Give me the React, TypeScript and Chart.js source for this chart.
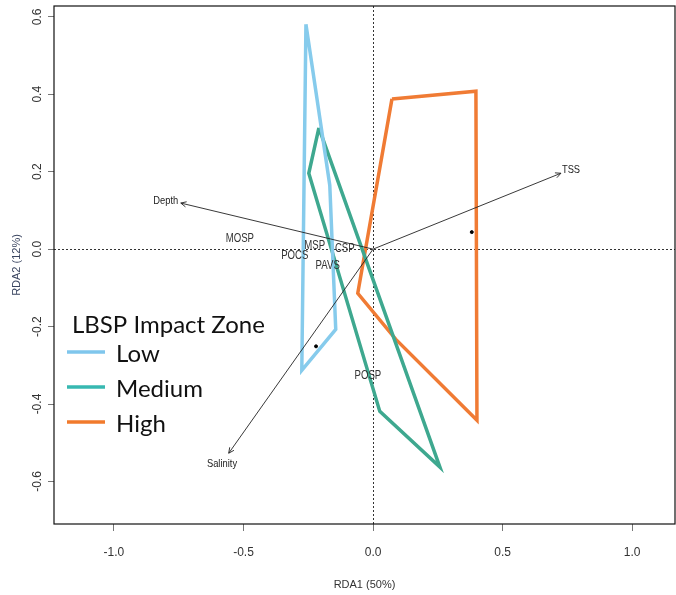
import { useEffect, useRef } from "react";
import { Chart, registerables } from "chart.js";

Chart.register(...registerables);

// ---- Data ----
const xTicks = [-1.0, -0.5, 0.0, 0.5, 1.0];
const yTicks = [-0.6, -0.4, -0.2, 0.0, 0.2, 0.4, 0.6];

const zoneNames = ["Low", "Medium", "High"];
const zoneColors = ["#86cbec", "#3ea88f", "#f07b34"];
const legendColors = ["#7fc6ec", "#37b8b1", "#f17a2c"];

const lowHullX = [-0.259, -0.167, -0.144, -0.275, -0.259];
const lowHullY = [0.581, 0.165, -0.207, -0.313, 0.581];
const mediumHullX = [-0.209, 0.258, 0.026, -0.248, -0.209];
const mediumHullY = [0.313, -0.563, -0.419, 0.196, 0.313];
const highHullX = [0.073, 0.397, 0.401, 0.088, -0.059, 0.073];
const highHullY = [0.388, 0.408, -0.442, -0.233, -0.114, 0.388];

const centroidX = [-0.22, 0.381];
const centroidY = [-0.251, 0.044];

const envNames = ["Depth", "TSS", "Salinity"];
const envX = [-0.742, 0.725, -0.557];
const envY = [0.119, 0.196, -0.527];
const envLabelX = [-0.8, 0.764, -0.583];
const envLabelY = [0.124, 0.204, -0.556];

const speciesNames = ["MOSP", "MSP", "CSP", "POCS", "PAVS", "POSP"];
const speciesX = [-0.514, -0.225, -0.109, -0.302, -0.175, -0.02];
const speciesY = [0.026, 0.008, 0.0, -0.016, -0.044, -0.328];

const xMin = -1.2313;
const xMax = 1.1653;
const yMin = -0.7098;
const yMax = 0.6279;

const xTitle = "RDA1 (50%)";
const yTitle = "RDA2 (12%)";
const legendTitle = "LBSP Impact Zone";

const SANS = '"Liberation Sans", Arial, sans-serif';

function zip(xs: number[], ys: number[]) {
  return xs.map((x, i) => ({ x, y: ys[i] }));
}

// draw horizontally condensed text (the reference uses a narrow face)
function narrowText(ctx: any, text: string, x: number, y: number, squeeze: number) {
  ctx.save();
  ctx.translate(x, y);
  ctx.scale(squeeze, 1);
  ctx.fillText(text, 0, 0);
  ctx.restore();
}

const annotationPlugin = {
  id: "rdaAnnotations",
  afterDatasetsDraw(chart: any) {
    const { ctx, chartArea, scales } = chart;
    const sx = scales.x;
    const sy = scales.y;
    ctx.save();
    // arrow heads
    const ox = sx.getPixelForValue(0);
    const oy = sy.getPixelForValue(0);
    ctx.strokeStyle = "#222";
    ctx.lineWidth = 0.9;
    envNames.forEach((_, i) => {
      const ex = sx.getPixelForValue(envX[i]);
      const ey = sy.getPixelForValue(envY[i]);
      const ang = Math.atan2(ey - oy, ex - ox);
      const len = 6;
      ctx.beginPath();
      ctx.moveTo(ex - len * Math.cos(ang - 0.45), ey - len * Math.sin(ang - 0.45));
      ctx.lineTo(ex, ey);
      ctx.lineTo(ex - len * Math.cos(ang + 0.45), ey - len * Math.sin(ang + 0.45));
      ctx.stroke();
    });
    // env labels
    ctx.fillStyle = "#222";
    ctx.font = `11px ${SANS}`;
    ctx.textAlign = "center";
    ctx.textBaseline = "middle";
    envNames.forEach((n, i) => {
      narrowText(ctx, n, sx.getPixelForValue(envLabelX[i]), sy.getPixelForValue(envLabelY[i]), 0.85);
    });
    // species labels
    ctx.font = `12px ${SANS}`;
    ctx.fillStyle = "#333";
    speciesNames.forEach((n, i) => {
      narrowText(ctx, n, sx.getPixelForValue(speciesX[i]), sy.getPixelForValue(speciesY[i]), 0.8);
    });
    // plot box
    ctx.strokeStyle = "#111";
    ctx.lineWidth = 1.2;
    ctx.strokeRect(chartArea.left, chartArea.top, chartArea.right - chartArea.left, chartArea.bottom - chartArea.top);
    // legend
    ctx.textAlign = "left";
    ctx.fillStyle = "#111";
    ctx.font = `24px Lato, "Open Sans", sans-serif`;
    ctx.fillText(legendTitle, 72, 325);
    zoneNames.forEach((n, i) => {
      const y = 352 + i * 35;
      ctx.strokeStyle = legendColors[i];
      ctx.lineWidth = 3.5;
      ctx.beginPath();
      ctx.moveTo(67, y);
      ctx.lineTo(105, y);
      ctx.stroke();
      ctx.fillStyle = "#111";
      ctx.fillText(n, 116, y + 2);
    });
    ctx.restore();
  },
};

export default function App() {
  const ref = useRef<HTMLCanvasElement | null>(null);

  useEffect(() => {
    document.body.style.margin = "0";
    document.body.style.background = "#ffffff";
    const canvas = ref.current;
    if (!canvas) return;

    const hulls = [zip(lowHullX, lowHullY), zip(mediumHullX, mediumHullY), zip(highHullX, highHullY)];

    const datasets: any[] = [];
    envNames.forEach((n, i) => {
      datasets.push({
        label: n,
        type: "line",
        data: [{ x: 0, y: 0 }, { x: envX[i], y: envY[i] }],
        borderColor: "#222",
        borderWidth: 0.9,
        pointRadius: 0,
        showLine: true,
        fill: false,
      });
    });
    zoneNames.forEach((n, i) => {
      datasets.push({
        label: n,
        type: "line",
        data: hulls[i],
        borderColor: zoneColors[i],
        borderWidth: 3.5,
        pointRadius: 0,
        showLine: true,
        fill: false,
        tension: 0,
        borderJoinStyle: "miter",
      });
    });
    datasets.push({
      label: "centroids",
      type: "scatter",
      data: zip(centroidX, centroidY),
      backgroundColor: "#000",
      borderColor: "#000",
      pointRadius: 1.5,
    });

    const tickFont = { family: SANS, size: 12 };
    const titleFont = { family: SANS, size: 11 };

    const chart = new Chart(canvas, {
      type: "scatter",
      data: { datasets },
      plugins: [annotationPlugin],
      options: {
        animation: false,
        responsive: false,
        maintainAspectRatio: false,
        layout: { autoPadding: false, padding: { top: 6, right: 1, left: 0, bottom: 0 } },
        plugins: {
          legend: { display: false },
          tooltip: { enabled: false },
        },
        scales: {
          x: {
            type: "linear",
            min: xMin,
            max: xMax,
            afterBuildTicks: (s: any) => {
              s.ticks = xTicks.map((v) => ({ value: v }));
            },
            afterFit: (s: any) => {
              s.height = 71;
              s.paddingLeft = 0;
              s.paddingRight = 0;
            },
            border: { display: false, dash: [2, 2] },
            grid: {
              color: (c: any) => (c.tick && c.tick.value === 0 ? "#333" : "transparent"),
              lineWidth: 1,
              tickColor: "#777",
              tickLength: 7,
            },
            ticks: {
              color: "#333",
              font: tickFont,
              padding: 14,
              maxRotation: 0,
              minRotation: 0,
              callback: (v: any) => Number(v).toFixed(1),
            },
            title: {
              display: true,
              text: xTitle,
              color: "#333",
              font: titleFont,
              padding: { top: 0, bottom: 3 },
            },
          },
          y: {
            type: "linear",
            min: yMin,
            max: yMax,
            afterBuildTicks: (s: any) => {
              s.ticks = yTicks.map((v) => ({ value: v }));
            },
            afterFit: (s: any) => {
              s.width = 54;
              s.paddingTop = 0;
              s.paddingBottom = 0;
            },
            border: { display: false, dash: [2, 2] },
            grid: {
              color: (c: any) => (c.tick && c.tick.value === 0 ? "#333" : "transparent"),
              lineWidth: 1,
              tickColor: "#777",
              tickLength: 6,
            },
            ticks: {
              color: "#333",
              font: tickFont,
              padding: 0,
              minRotation: 90,
              maxRotation: 90,
              crossAlign: "center",
              callback: (v: any) => Number(v).toFixed(1),
            },
            title: {
              display: true,
              text: yTitle,
              color: "#3a4560",
              font: titleFont,
              padding: { top: 10, bottom: 0 },
            },
          },
        },
      } as any,
    });

    return () => chart.destroy();
  }, []);

  return (
    <div style={{ width: 676, height: 595 }}>
      <canvas ref={ref} width={676} height={595} style={{ display: "block" }} />
    </div>
  );
}
